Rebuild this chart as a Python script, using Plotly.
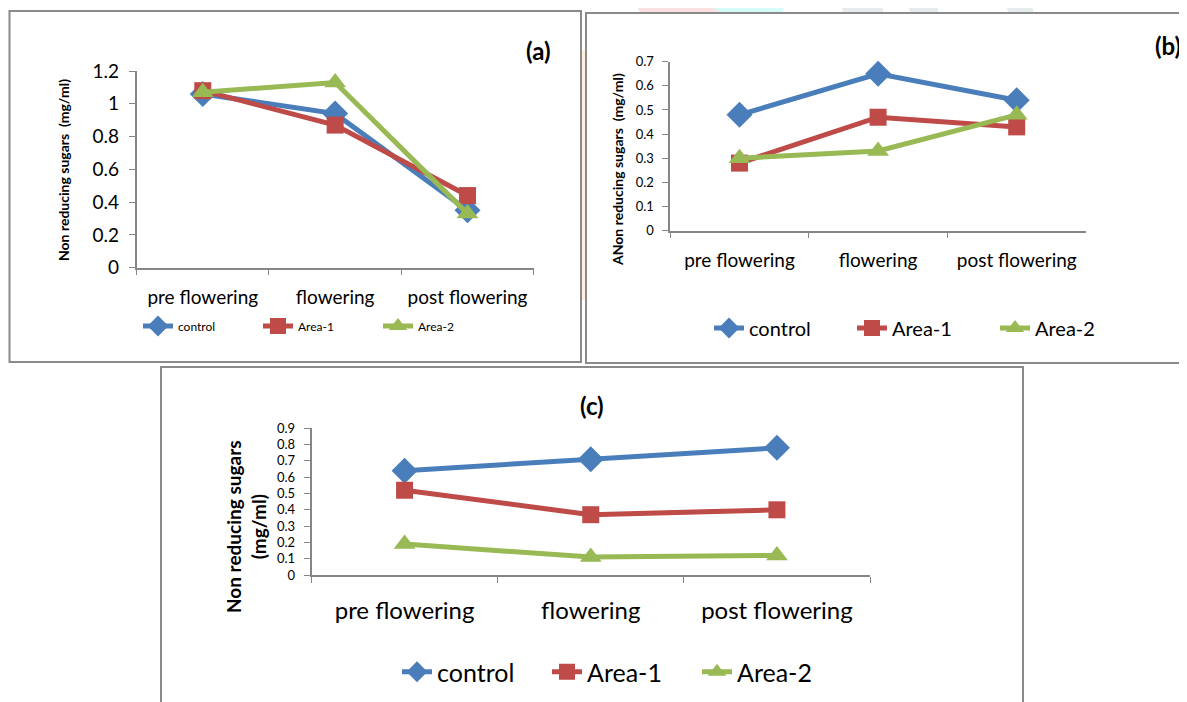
import plotly.graph_objects as go

# browser body margin offset (default 8px)
OFF = 8
W, H = 1187 - OFF, 702 - OFF

stages = ["pre flowering", "flowering", "post flowering"]
series_names = ["control", "Area-1", "Area-2"]

# Panel (a)
a_control = [1.06, 0.94, 0.35]
a_area1 = [1.08, 0.87, 0.44]
a_area2 = [1.07, 1.13, 0.33]
a_ticks = [0, 0.2, 0.4, 0.6, 0.8, 1, 1.2]
a_ticktext = ["0", "0.2", "0.4", "0.6", "0.8", "1", "1.2"]

# Panel (b)
b_control = [0.48, 0.65, 0.54]
b_area1 = [0.28, 0.47, 0.43]
b_area2 = [0.30, 0.33, 0.48]
b_ticks = [0, 0.1, 0.2, 0.3, 0.4, 0.5, 0.6, 0.7]
b_ticktext = ["0", "0.1", "0.2", "0.3", "0.4", "0.5", "0.6", "0.7"]

# Panel (c)
c_control = [0.64, 0.71, 0.78]
c_area1 = [0.52, 0.37, 0.40]
c_area2 = [0.19, 0.11, 0.12]
c_ticks = [0, 0.1, 0.2, 0.3, 0.4, 0.5, 0.6, 0.7, 0.8, 0.9]
c_ticktext = ["0", "0.1", "0.2", "0.3", "0.4", "0.5", "0.6", "0.7", "0.8", "0.9"]

colors = ["#4A7EBB", "#BE4B48", "#98B954"]
symbols = ["diamond", "square", "triangle-up"]
msizes = [20, 17, 19]

FONT = "Lato"

def px(x):
    return (x - OFF) / W

def py(y):
    return 1 - (y - OFF) / H

fig = go.Figure()

panels = [
    ("x", "y", "legend", [a_control, a_area1, a_area2]),
    ("x2", "y2", "legend2", [b_control, b_area1, b_area2]),
    ("x3", "y3", "legend3", [c_control, c_area1, c_area2]),
]
for xa, ya, lg, data in panels:
    for i, vals in enumerate(data):
        fig.add_trace(go.Scatter(
            x=stages, y=vals, name=series_names[i], mode="lines+markers",
            xaxis=xa, yaxis=ya, legend=lg, cliponaxis=False,
            line=dict(color=colors[i], width=5),
            marker=dict(symbol=symbols[i], size=msizes[i], color=colors[i]),
        ))

axis_line = "#868686"

def xaxis_cfg(domain, anchor, fsize, standoff):
    return dict(domain=domain, anchor=anchor, type="category",
                showline=True, linecolor=axis_line, linewidth=1.5,
                ticks="outside", tickson="boundaries", ticklen=6, tickcolor=axis_line,
                ticklabelstandoff=standoff,
                showgrid=False, zeroline=False, automargin=False,
                tickfont=dict(family=FONT, size=fsize, color="#000"),
                range=[-0.5, 2.5])

def yaxis_cfg(domain, anchor, rng, tv, tt, fsize):
    return dict(domain=domain, anchor=anchor, range=rng,
                showline=True, linecolor=axis_line, linewidth=1.5,
                ticks="outside", ticklen=6, tickcolor=axis_line,
                tickvals=tv, ticktext=tt, ticklabelstandoff=6,
                showgrid=False, zeroline=False, automargin=False,
                tickfont=dict(family=FONT, size=fsize, color="#000"))

fig.update_layout(
    width=W, height=H,
    margin=dict(l=0, r=0, t=0, b=0, autoexpand=False),
    paper_bgcolor="white", plot_bgcolor="rgba(0,0,0,0)",
    font=dict(family=FONT, color="#000"),
    xaxis=xaxis_cfg([px(136.6), px(533.7)], "y", 19, 12),
    yaxis=yaxis_cfg([py(267.7), py(71)], "x", [0, 1.2], a_ticks, a_ticktext, 19),
    xaxis2=xaxis_cfg([px(670.2), px(1086)], "y2", 19, 12),
    yaxis2=yaxis_cfg([py(230.7), py(61.7)], "x2", [0, 0.7], b_ticks, b_ticktext, 13),
    xaxis3=xaxis_cfg([px(311.5), px(870)], "y3", 24, 13),
    yaxis3=yaxis_cfg([py(575), py(428.3)], "x3", [0, 0.9], c_ticks, c_ticktext, 13),
    legend=dict(orientation="h", x=px(138), y=py(326), xanchor="left", yanchor="middle",
                font=dict(family=FONT, size=12), entrywidth=75, entrywidthmode="pixels",
                bgcolor="rgba(0,0,0,0)"),
    legend2=dict(orientation="h", x=px(709), y=py(328), xanchor="left", yanchor="middle",
                 font=dict(family=FONT, size=20), entrywidth=98, entrywidthmode="pixels",
                 bgcolor="rgba(0,0,0,0)"),
    legend3=dict(orientation="h", x=px(397), y=py(672), xanchor="left", yanchor="middle",
                 font=dict(family=FONT, size=25), entrywidth=105, entrywidthmode="pixels",
                 bgcolor="rgba(0,0,0,0)"),
    showlegend=True,
)

# faint watermark fragments visible in the top strip / gap between panels
def poly(pts):
    return "M " + " L ".join(f"{px(x)},{py(y)}" for x, y in pts) + " Z"

fig.add_shape(type="path", xref="paper", yref="paper", layer="below",
              path=poly([(683, 0), (787, 0), (782, 13), (700, 13)]),
              fillcolor="#d6fbfb", line=dict(width=0))
fig.add_shape(type="path", xref="paper", yref="paper", layer="below",
              path=poly([(635, 0), (700, 0), (722, 13), (640, 13)]),
              fillcolor="#fde0e2", line=dict(width=0))
for x0, x1 in [(838, 880), (905, 935), (1003, 1030)]:
    fig.add_shape(type="path", xref="paper", yref="paper", layer="below",
                  path=poly([(x0, 0), (x1, 0), (x1 + 4, 13), (x0 + 6, 13)]),
                  fillcolor="#e6ecee", line=dict(width=0))
fig.add_shape(type="rect", xref="paper", yref="paper", layer="below",
              x0=px(582), x1=px(585.5), y0=py(300), y1=py(50),
              fillcolor="#fdf0dc", line=dict(width=0))

border = dict(color="#8a8a8a", width=2)
fig.add_shape(type="rect", xref="paper", yref="paper",
              x0=px(9.5), x1=px(581), y0=py(362), y1=py(11), line=border, layer="below")
fig.add_shape(type="rect", xref="paper", yref="paper",
              x0=px(586), x1=px(1195), y0=py(363), y1=py(13), line=border, layer="below")
fig.add_shape(type="rect", xref="paper", yref="paper",
              x0=px(161), x1=px(1023), y0=py(710), y1=py(367), line=border, layer="below")

ann = [
    dict(text="<b>(a)</b>", x=px(538), y=py(51), size=24, angle=0),
    dict(text="<b>(b)</b>", x=px(1168), y=py(46), size=24, angle=0),
    dict(text="<b>(c)</b>", x=px(592), y=py(406), size=24, angle=0),
    dict(text="<b>Non reducing sugars  (mg/ml)</b>", x=px(63), y=py(170), size=14, angle=-90),
    dict(text="<b>ANon reducing sugars  (mg/ml)</b>", x=px(617), y=py(170), size=14, angle=-90),
    dict(text="<b>Non reducing sugars<br>(mg/ml)</b>", x=px(246), y=py(527), size=19, angle=-90),
]
for a in ann:
    fig.add_annotation(text=a["text"], x=a["x"], y=a["y"], xref="paper", yref="paper",
                       showarrow=False, textangle=a["angle"], xanchor="center", yanchor="middle",
                       font=dict(family=FONT, size=a["size"], color="#000"))

fig.write_html("out.html")
